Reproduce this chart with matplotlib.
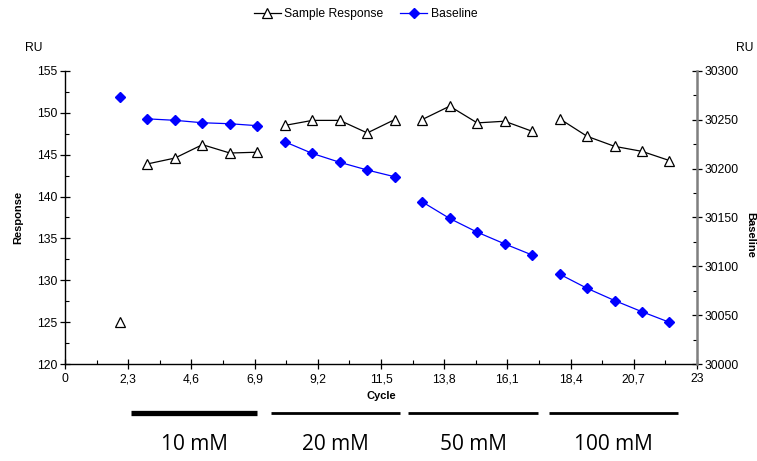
import matplotlib
matplotlib.use("Agg")
import matplotlib.pyplot as plt
import numpy as np

plt.rcParams["font.family"] = ["Liberation Sans", "DejaVu Sans"]

# cycle groups (each concentration), first cycle stands alone
cycles = [2, 3, 4, 5, 6, 7, 8, 9, 10, 11, 12, 13, 14, 15, 16, 17, 18, 19, 20, 21, 22]
sample_response = [125.0, 143.9, 144.6, 146.2, 145.2, 145.3,
                   148.5, 149.1, 149.1, 147.6, 149.2,
                   149.2, 150.8, 148.8, 149.0, 147.8,
                   149.3, 147.2, 146.0, 145.4, 144.3]
baseline = [30273, 30251, 30249.5, 30247, 30246, 30244,
            30227.5, 30215.6, 30206.5, 30198.6, 30191.7,
            30166, 30149, 30135, 30123, 30111.6,
            30092, 30077.5, 30065, 30053.5, 30042.7]
# group break after these cycles
breaks_after = [2, 7, 12, 17]

x_ticks = [0, 2.3, 4.6, 6.9, 9.2, 11.5, 13.8, 16.1, 18.4, 20.7, 23]
x_tick_labels = ["0", "2,3", "4,6", "6,9", "9,2", "11,5", "13,8", "16,1", "18,4", "20,7", "23"]

conc_labels = ["10 mM", "20 mM", "50 mM", "100 mM"]
conc_spans = [(2.4, 7.0), (7.5, 12.2), (12.5, 17.2), (17.6, 22.3)]
conc_widths = [3.8, 2.0, 2.0, 2.0]


def with_breaks(xs, ys):
    out_x, out_y = [], []
    for x, y in zip(xs, ys):
        out_x.append(x)
        out_y.append(y)
        if x in breaks_after:
            out_x.append(x + 0.5)
            out_y.append(np.nan)
    return out_x, out_y


fig = plt.figure(figsize=(7.57, 4.61), dpi=100)
ax = fig.add_axes([0.0859, 0.2104, 0.8348, 0.6356])
ax2 = ax.twinx()

sx, sy = with_breaks(cycles, sample_response)
bx, by = with_breaks(cycles, baseline)

ax.plot(sx, sy, color="black", lw=0.9, marker="^", markersize=6.5,
        markerfacecolor="white", markeredgecolor="black", markeredgewidth=0.9,
        label="Sample Response", zorder=3)
ax2.plot(bx, by, color="blue", lw=0.9, marker="D", markersize=5.5,
         markerfacecolor="blue", markeredgecolor="blue", label="Baseline")

ax.set_xlim(0, 23)
ax.set_ylim(120, 155)
ax2.set_ylim(30000, 30300)

ax.set_xticks(x_ticks)
ax.set_xticklabels(x_tick_labels)
ax.set_xticks(np.arange(1.15, 23, 2.3), minor=True)
ax.set_yticks(np.arange(120, 156, 5))
ax.set_yticks(np.arange(122.5, 155, 5), minor=True)
ax2.set_yticks(np.arange(30000, 30301, 50))
ax2.set_yticks(np.arange(30025, 30300, 50), minor=True)

for a in (ax, ax2):
    a.tick_params(which="major", direction="inout", length=7, width=0.9, labelsize=8.7, pad=2)
    a.tick_params(which="minor", direction="in", length=3, width=0.8)
ax.tick_params(axis="x", pad=3)

ax.spines["top"].set_visible(False)
ax2.spines["top"].set_visible(False)
ax.spines["right"].set_visible(False)
ax2.spines["left"].set_visible(False)
ax2.spines["bottom"].set_visible(False)
ax2.spines["right"].set_color("#7f7f7f")
ax2.spines["right"].set_linewidth(1.8)
ax.spines["left"].set_linewidth(1.0)
ax.spines["bottom"].set_linewidth(1.0)

ax.set_xlabel("Cycle", fontsize=8, fontweight="bold", labelpad=4)
ax.set_ylabel("Response", fontsize=8, fontweight="bold", labelpad=10)
# right axis label at the far edge, kept fully inside the canvas
fig.text(0.998, 0.49, "Baseline", rotation=270, fontsize=8, fontweight="bold",
         ha="right", va="center")

fig.text(34 / 757, 1 - 48 / 461, "RU", fontsize=8.7, ha="center", va="center")
fig.text(745 / 757, 1 - 48 / 461, "RU", fontsize=8.7, ha="center", va="center")

# concentration bars below the x axis
trans = ax.get_xaxis_transform()
for (x0, x1), lab, w in zip(conc_spans, conc_labels, conc_widths):
    ax.plot([x0, x1], [-0.167, -0.167], transform=trans, color="black",
            lw=w, solid_capstyle="butt", clip_on=False)
    ax.text((x0 + x1) / 2, -0.275, lab, transform=trans, ha="center", va="center",
            fontsize=15, family=["Open Sans", "DejaVu Sans"])

h1, l1 = ax.get_legend_handles_labels()
h2, l2 = ax2.get_legend_handles_labels()
fig.legend(h1 + h2, l1 + l2, loc="center", bbox_to_anchor=(0.483, 0.97), ncol=2,
           frameon=False, fontsize=8.7, handlelength=2.2, columnspacing=1.4,
           handletextpad=0.3)

fig.savefig("out.png", dpi=100)
